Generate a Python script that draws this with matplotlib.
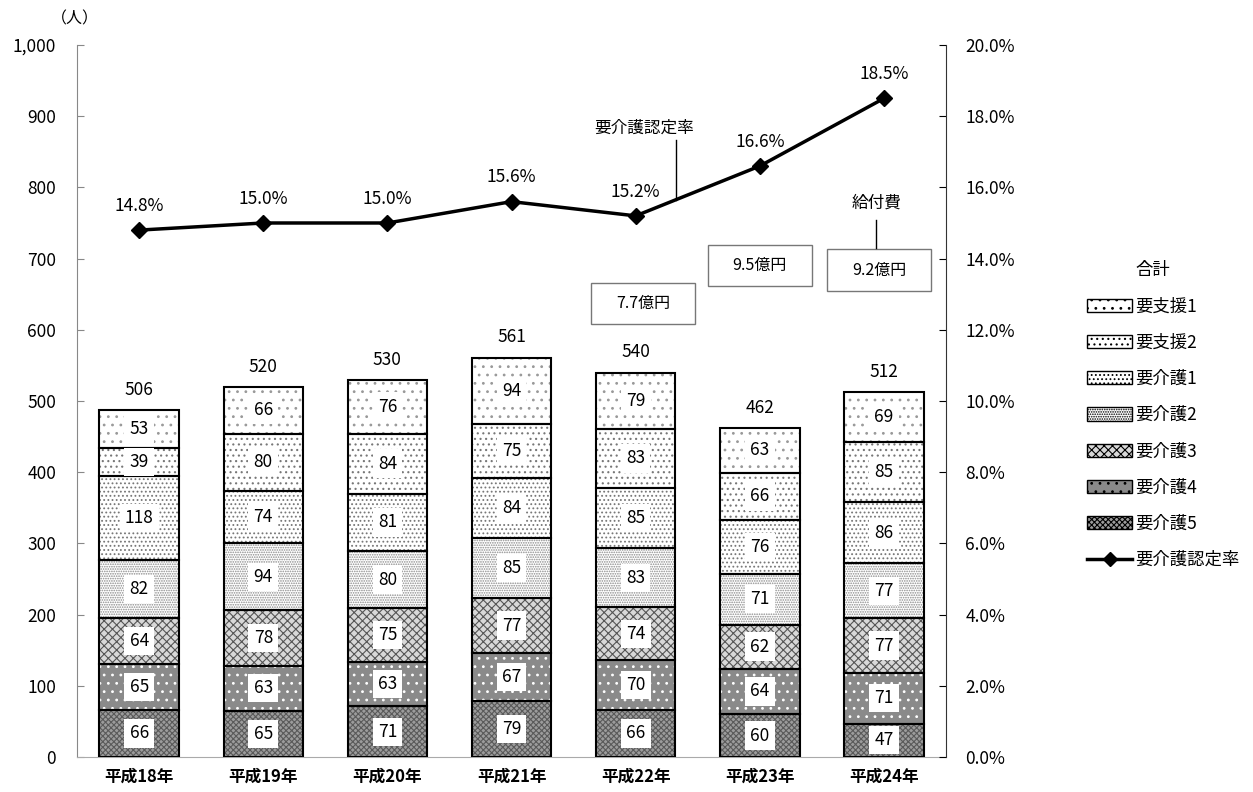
import matplotlib.pyplot as plt
from matplotlib.patches import Patch, Rectangle
from matplotlib.lines import Line2D
from matplotlib.ticker import FuncFormatter

plt.rcParams['font.family'] = ['Noto Sans CJK JP', 'DejaVu Sans']
plt.rcParams['hatch.linewidth'] = 0.8

years = ["平成18年", "平成19年", "平成20年", "平成21年", "平成22年", "平成23年", "平成24年"]
levels = ["要支援1", "要支援2", "要介護1", "要介護2", "要介護3", "要介護4", "要介護5"]

# counts per care level for each year
shien1 = [53, 66, 76, 94, 79, 63, 69]
shien2 = [39, 80, 84, 75, 83, 66, 85]
kaigo1 = [118, 74, 81, 84, 85, 76, 86]
kaigo2 = [82, 94, 80, 85, 83, 71, 77]
kaigo3 = [64, 78, 75, 77, 74, 62, 77]
kaigo4 = [65, 63, 63, 67, 70, 64, 71]
kaigo5 = [66, 65, 71, 79, 66, 60, 47]
totals = [506, 520, 530, 561, 540, 462, 512]
rate = [14.8, 15.0, 15.0, 15.6, 15.2, 16.6, 18.5]

cost_labels = ["7.7億円", "9.5億円", "9.2億円"]
cost_x = [4.06, 5.0, 5.96]
cost_y = [637, 690, 684]

# stacked bottom-up
series = [kaigo5, kaigo4, kaigo3, kaigo2, kaigo1, shien2, shien1]
names = ["要介護5", "要介護4", "要介護3", "要介護2", "要介護1", "要支援2", "要支援1"]
# (facecolor, hatch, hatch colour)
styles = [
    ("#9c9c9c", "xxxxxx", "#5a5a5a"),
    ("#8a8a8a", "..", "white"),
    ("#d8d8d8", "xxxx", "#555555"),
    ("white", ".......", "#8a8a8a"),
    ("white", "....", "#777777"),
    ("white", "...", "#777777"),
    ("white", "..", "#999999"),
]

fig = plt.figure(figsize=(12.53, 7.92), dpi=100)
ax = fig.add_axes([0.0615, 0.0442, 0.6935, 0.899])
x = list(range(len(years)))
width = 0.64

bottom = [0] * len(years)
for vals, (fc, hatch, hc) in zip(series, styles):
    ax.bar(x, vals, width, bottom=bottom, color=fc, hatch=hatch,
           edgecolor=hc, linewidth=0, zorder=2)
    ax.bar(x, vals, width, bottom=bottom, fill=False,
           edgecolor="black", linewidth=1.5, zorder=3)
    for xi, v, b in zip(x, vals, bottom):
        ax.text(xi, b + v / 2, str(v), ha="center", va="center", fontsize=12.5,
                zorder=5, bbox=dict(boxstyle="square,pad=0.3", fc="white", ec="none"))
    bottom = [b + v for b, v in zip(bottom, vals)]

for xi, top, t in zip(x, bottom, totals):
    ax.annotate(str(t), (xi, top), xytext=(0, 8), textcoords="offset points",
                ha="center", va="bottom", fontsize=12.5)

ax.set_xlim(-0.5, len(years) - 0.5)
ax.set_ylim(0, 1000)
ax.set_yticks(range(0, 1001, 100))
ax.yaxis.set_major_formatter(FuncFormatter(lambda v, p: f"{int(v):,}"))
ax.set_xticks(x)
ax.set_xticklabels(years, fontsize=12, fontweight="bold")
ax.tick_params(axis="x", length=0, pad=8)
ax.tick_params(axis="y", direction="in", length=5, labelsize=12.5, pad=15, color="#888888")
ax.spines["top"].set_visible(False)
ax.spines["left"].set_color("#888888")
ax.spines["bottom"].set_color("#aaaaaa")
ax.spines["right"].set_visible(False)
ax.text(-0.52, 1036, "（人）", ha="center", va="center", fontsize=11.5)

# 給付費 boxes
for lbl, cx, cy in zip(cost_labels, cost_x, cost_y):
    ax.add_patch(Rectangle((cx - 0.42, cy - 29), 0.84, 58, fc="white",
                           ec="#777777", lw=1, zorder=6))
    ax.text(cx, cy, lbl, ha="center", va="center", fontsize=11.5, zorder=7)

ax2 = ax.twinx()
ax2.set_ylim(0, 0.2)
ax2.set_yticks([i * 0.02 for i in range(11)])
ax2.yaxis.set_major_formatter(FuncFormatter(lambda v, p: f"{v * 100:.1f}%"))
ax2.tick_params(axis="y", direction="in", length=5, labelsize=12.5, pad=14)
ax2.spines["top"].set_visible(False)
ax2.spines["left"].set_visible(False)
ax2.spines["bottom"].set_visible(False)
ax2.spines["right"].set_color("#333333")
rate_frac = [r / 100 for r in rate]
ax2.plot(x, rate_frac, color="black", lw=2.5, marker="D", markersize=8, zorder=4)
for xi, r in zip(x, rate):
    ax2.annotate(f"{r:.1f}%", (xi, r / 100), xytext=(0, 11), textcoords="offset points",
                 ha="center", va="bottom", fontsize=12.5)

# callouts
ax2.text(4.07, 0.1765, "要介護認定率", ha="center", va="center", fontsize=12)
ax2.plot([4.325, 4.325], [0.1733, 0.1565], color="black", lw=1)
ax2.text(5.94, 0.1556, "給付費", ha="center", va="center", fontsize=12)
ax2.plot([5.94, 5.94], [0.1508, 0.143], color="black", lw=1)

# legend
handles = [Line2D([], [], color="none")]
labels = ["合計"]
for nm in levels:
    fc, hatch, hc = styles[names.index(nm)]
    handles.append(Patch(facecolor=fc, hatch=hatch, edgecolor="black", linewidth=1))
    labels.append(nm)
handles.append(Line2D([], [], color="black", lw=2.5, marker="D", markersize=7))
labels.append("要介護認定率")
leg = fig.legend(handles, labels, loc="upper left", bbox_to_anchor=(0.855, 0.69),
                 frameon=False, fontsize=12.5, handlelength=2.6, handleheight=0.8,
                 labelspacing=1.05, handletextpad=0.2)

fig.savefig("out.png", dpi=100)
